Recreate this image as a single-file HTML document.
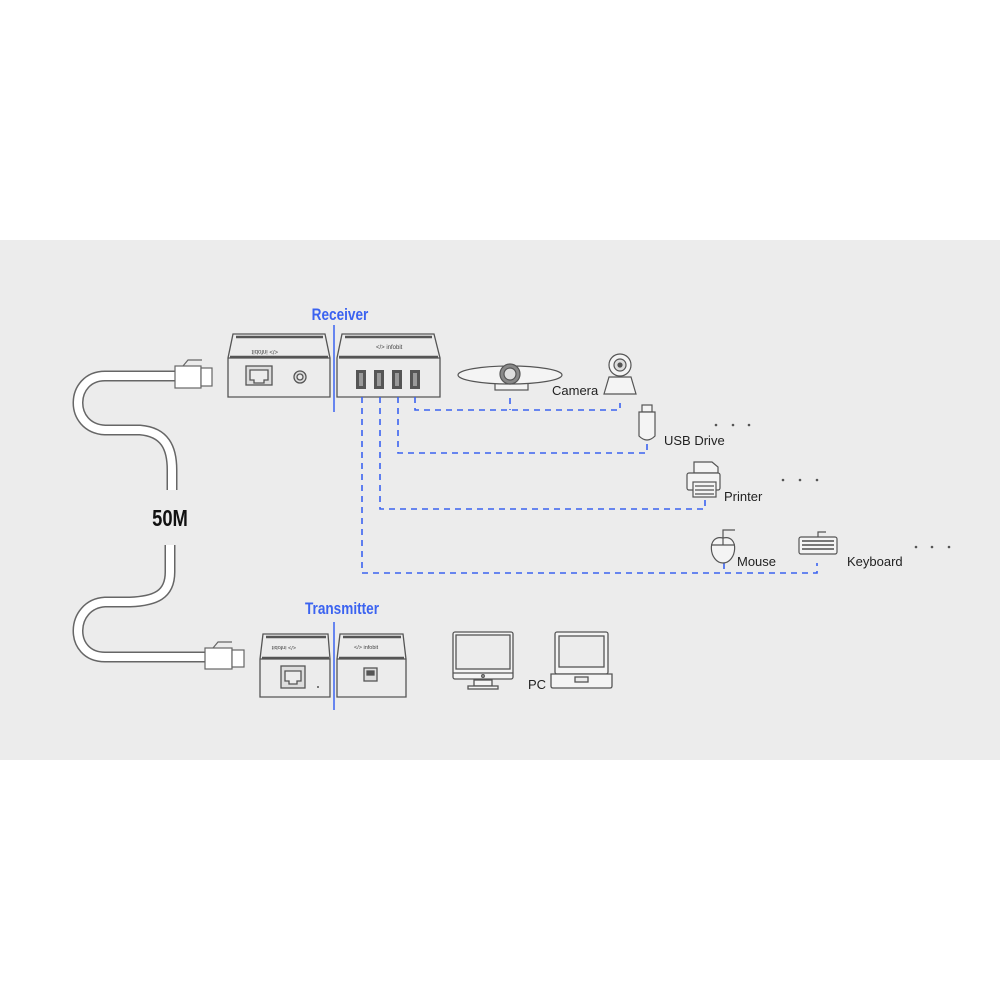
<!DOCTYPE html>
<html><head><meta charset="utf-8"><style>
html,body{margin:0;padding:0;background:#fff;}
svg{display:block}
text{font-family:"Liberation Sans",sans-serif;}
</style></head><body>
<svg width="1000" height="1000" viewBox="0 0 1000 1000">
<rect x="0" y="240" width="1000" height="520" fill="#ececec"/>

<!-- cable -->
<g fill="none" stroke-linecap="butt" stroke-linejoin="round">
<path d="M178 376 H105 C70 376 68 428 105 430 H140 C165 432 172 448 172 470 V490" stroke="#666" stroke-width="11"/>
<path d="M178 376 H105 C70 376 68 428 105 430 H140 C165 432 172 448 172 470 V490" stroke="#fff" stroke-width="8"/>
<path d="M170 545 V572 C170 595 155 601 130 602 H105 C70 604 68 657 105 657 H208" stroke="#666" stroke-width="11"/>
<path d="M170 545 V572 C170 595 155 601 130 602 H105 C70 604 68 657 105 657 H208" stroke="#fff" stroke-width="8"/>
</g>
<!-- plugs -->
<g stroke="#666" stroke-width="1.2" fill="#fff">
<rect x="175" y="366" width="26" height="22"/><rect x="201" y="368" width="11" height="18"/>
<path d="M183 366 l5-6 h14" fill="none"/>
<rect x="205" y="648" width="27" height="21"/><rect x="232" y="650" width="12" height="17"/>
<path d="M213 648 l5-6 h14" fill="none"/>
</g>
<text x="170" y="526" font-size="23" font-weight="bold" text-anchor="middle" fill="#111" transform="translate(170 0) scale(0.8 1) translate(-170 0)">50M</text>

<!-- receiver -->
<text x="340" y="320" font-size="17" font-weight="bold" fill="#3b63f0" text-anchor="middle" transform="translate(340 0) scale(0.8 1) translate(-340 0)">Receiver</text>
<line x1="334" y1="325" x2="334" y2="412" stroke="#3b63f0" stroke-width="1.5"/>
<g stroke="#555" stroke-width="1.3" fill="#ececec">
<path d="M233 334 H325 L330 358 V397 H228 V358 Z"/>
<line x1="228" y1="358" x2="330" y2="358"/>
<line x1="236" y1="337" x2="323" y2="337" stroke-width="2.5"/>
<line x1="230" y1="357" x2="328" y2="357" stroke-width="2.5"/>
<rect x="246" y="366" width="26" height="19" fill="#ddd"/>
<path d="M250 370 h18 v10 h-4 v3 h-10 v-3 h-4z" fill="#ececec"/>
<circle cx="300" cy="377" r="6" fill="#ddd"/><circle cx="300" cy="377" r="3"/>
<path d="M342 334 H434 L440 358 V397 H337 V358 Z"/>
<line x1="339" y1="358" x2="440" y2="358"/>
<line x1="345" y1="337" x2="432" y2="337" stroke-width="2.5"/>
<line x1="339" y1="357" x2="438" y2="357" stroke-width="2.5"/>
</g>
<text x="278" y="354" font-size="6" fill="#444" transform="rotate(180 278 352)">&lt;/&gt; infobit</text>
<text x="376" y="349" font-size="6" fill="#444">&lt;/&gt; infobit</text>
<g fill="#555"><rect x="356" y="370" width="10" height="19"/><rect x="374" y="370" width="10" height="19"/><rect x="392" y="370" width="10" height="19"/><rect x="410" y="370" width="10" height="19"/></g>
<g fill="#999"><rect x="359" y="373" width="4" height="13"/><rect x="377" y="373" width="4" height="13"/><rect x="395" y="373" width="4" height="13"/><rect x="413" y="373" width="4" height="13"/></g>

<!-- dashed lines -->
<g fill="none" stroke="#3b63f0" stroke-width="1.6" stroke-dasharray="6 5">
<path d="M415 397 V410 H620 V403"/>
<path d="M510 398 V410"/>
<path d="M398 397 V453 H647 V441"/>
<path d="M380 397 V509 H705 V497"/>
<path d="M362 397 V573 H817 V563"/>
<path d="M724 563 V573"/>
</g>

<!-- camera bar -->
<g stroke="#555" stroke-width="1.2" fill="#f4f4f4">
<rect x="495" y="381" width="33" height="9"/>
<ellipse cx="510" cy="375" rx="52" ry="9"/>
<circle cx="510" cy="374" r="10" fill="#888"/><circle cx="510" cy="374" r="6" fill="#ddd"/>
<!-- webcam -->
<path d="M609 377 H631 L636 394 H604 Z"/>
<circle cx="620" cy="365" r="11"/><circle cx="620" cy="365" r="6" fill="#ddd"/><circle cx="620" cy="365" r="2" fill="#555"/>
<!-- usb drive -->
<rect x="642" y="405" width="10" height="7"/>
<path d="M639 412 H655 V436 Q647 444 639 436 Z"/>
<!-- printer -->
<path d="M694 462 H712 L718 467 V473 H694 Z"/>
<rect x="687" y="473" width="33" height="17" rx="2"/>
<rect x="693" y="482" width="23" height="15"/>
<line x1="695" y1="486" x2="714" y2="486"/><line x1="695" y1="490" x2="714" y2="490"/><line x1="695" y1="494" x2="714" y2="494"/>
<!-- mouse -->
<path d="M723 538 C740 534 737 563 723 563 C709 563 706 534 723 538 Z"/>
<line x1="711" y1="545" x2="735" y2="545"/><line x1="723" y1="535" x2="723" y2="545"/>
<path d="M723 535 V530 H735" fill="none"/>
<!-- keyboard -->
<rect x="799" y="537" width="38" height="17" rx="2"/>
<path d="M818 537 V532 H826" fill="none"/>
</g>
<g fill="#777">
<rect x="802" y="540" width="32" height="2"/><rect x="802" y="544" width="32" height="2"/><rect x="802" y="548" width="32" height="2"/>
</g>
<g font-size="13" fill="#222">
<text x="552" y="395">Camera</text>
<text x="664" y="445">USB Drive</text>
<text x="724" y="501">Printer</text>
<text x="737" y="566">Mouse</text>
<text x="847" y="566">Keyboard</text>
<text x="528" y="689">PC</text>
</g>
<g fill="#555">
<circle cx="716" cy="425" r="1.3"/><circle cx="733" cy="425" r="1.3"/><circle cx="749" cy="425" r="1.3"/>
<circle cx="783" cy="480" r="1.3"/><circle cx="800" cy="480" r="1.3"/><circle cx="817" cy="480" r="1.3"/>
<circle cx="916" cy="547" r="1.3"/><circle cx="932" cy="547" r="1.3"/><circle cx="949" cy="547" r="1.3"/>
</g>

<!-- transmitter -->
<text x="342" y="614" font-size="17" font-weight="bold" fill="#3b63f0" text-anchor="middle" transform="translate(342 0) scale(0.8 1) translate(-342 0)">Transmitter</text>
<line x1="334" y1="622" x2="334" y2="710" stroke="#3b63f0" stroke-width="1.5"/>
<g stroke="#555" stroke-width="1.3" fill="#ececec">
<path d="M263 634 H328 L330 659 V697 H260 V659 Z"/>
<line x1="260" y1="659" x2="330" y2="659"/>
<line x1="266" y1="637" x2="326" y2="637" stroke-width="2.5"/>
<line x1="262" y1="658" x2="329" y2="658" stroke-width="2.5"/>
<rect x="281" y="666" width="24" height="22" fill="#ddd"/>
<path d="M285 671 h16 v10 h-4 v3 h-8 v-3 h-4z" fill="#ececec"/>
<path d="M340 634 H403 L406 659 V697 H337 V659 Z"/>
<line x1="337" y1="659" x2="406" y2="659"/>
<line x1="343" y1="637" x2="401" y2="637" stroke-width="2.5"/>
<line x1="339" y1="658" x2="404" y2="658" stroke-width="2.5"/>
<rect x="364" y="668" width="13" height="13" fill="#ddd"/>
<rect x="367" y="671" width="7" height="4" fill="#555"/>
<!-- monitor -->
<rect x="453" y="632" width="60" height="47" rx="2" fill="#f4f4f4"/>
<rect x="456" y="635" width="54" height="34" fill="#ececec"/>
<line x1="453" y1="673" x2="513" y2="673"/>
<rect x="474" y="680" width="18" height="6" fill="#f4f4f4"/>
<rect x="468" y="686" width="30" height="3" fill="#f4f4f4"/>
<circle cx="483" cy="676" r="1.3"/>
<!-- laptop -->
<rect x="555" y="632" width="53" height="42" rx="2" fill="#f4f4f4"/>
<rect x="559" y="636" width="45" height="31" fill="#ececec"/>
<path d="M551 674 H612 V686 Q612 688 610 688 H553 Q551 688 551 686 Z" fill="#f4f4f4"/>
<rect x="575" y="677" width="13" height="5"/>
</g>
<text x="296" y="650" font-size="5.5" fill="#444" transform="rotate(180 296 648)">&lt;/&gt; infobit</text>
<text x="354" y="649" font-size="5.5" fill="#444">&lt;/&gt; infobit</text>
<circle cx="318" cy="687" r="1" fill="#555"/>
</svg>
</body></html>
